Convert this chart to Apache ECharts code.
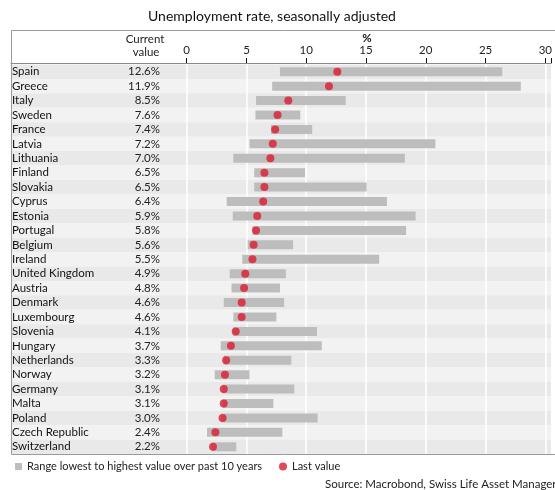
<!DOCTYPE html>
<html><head><meta charset="utf-8">
<script src="https://cdn.jsdelivr.net/npm/echarts@6/dist/echarts.min.js"></script>
<style>html,body{margin:0;padding:0;background:#fff}#c{width:555px;height:490px}</style>
</head><body><div id="c"></div>
<script>
const countries = ["Spain","Greece","Italy","Sweden","France","Latvia","Lithuania","Finland","Slovakia","Cyprus","Estonia","Portugal","Belgium","Ireland","United Kingdom","Austria","Denmark","Luxembourg","Slovenia","Hungary","Netherlands","Norway","Germany","Malta","Poland","Czech Republic","Switzerland"];
const currentValues = [12.6,11.9,8.5,7.6,7.4,7.2,7.0,6.5,6.5,6.4,5.9,5.8,5.6,5.5,4.9,4.8,4.6,4.6,4.1,3.7,3.3,3.2,3.1,3.1,3.0,2.4,2.2];
const rangeMin = [7.8,7.15,5.8,5.75,7.05,5.25,3.9,5.65,5.65,3.35,3.85,5.5,5.1,4.65,3.6,3.75,3.1,3.9,3.9,2.85,3.1,2.35,3.0,3.0,2.9,1.7,2.1];
const rangeMax = [26.4,27.95,13.3,9.5,10.5,20.8,18.25,9.9,15.05,16.75,19.15,18.35,8.9,16.1,8.3,7.8,8.15,7.5,10.9,11.3,8.75,5.25,9.0,7.25,10.95,8.0,4.15];
const xTicks = [0,5,10,15,20,25,30];

const FONT = 'Lato';
const rangeName = 'Range lowest to highest value over past 10 years';
const lastName = 'Last value';
const TOP = 64.5, H = 389.5, SPLIT = 186.7;

const chart = echarts.init(document.getElementById('c'), null, {renderer:'canvas'});
const stripe = {show:true, interval:0, areaStyle:{color:['#e9e9e9','#f2f2f2']}};
chart.setOption({
  animation:false,
  textStyle:{fontFamily:FONT},
  title:{text:'Unemployment rate, seasonally adjusted', left:148, top:9, padding:0,
    textStyle:{fontFamily:FONT, fontSize:14, fontWeight:'normal', color:'#111'}},
  grid:[
    {left:11, top:TOP, width:SPLIT-11, height:H},
    {left:SPLIT, top:TOP, right:0, height:H}
  ],
  xAxis:[
    {gridIndex:0, type:'value', min:0, max:1, position:'top', offset:1.5,
     axisLine:{show:true, lineStyle:{color:'#8a8a8a', width:1}}, axisTick:{show:false},
     axisLabel:{show:false}, splitLine:{show:false}},
    {gridIndex:1, type:'value', min:0, max:30.5, interval:5, position:'top', offset:1.5,
     axisLine:{show:true, lineStyle:{color:'#8a8a8a', width:1}},
     axisTick:{show:true, length:5, lineStyle:{color:'#111', width:1}},
     axisLabel:{margin:7, fontSize:11.5, color:'#222', fontFamily:FONT,
       formatter:v=> xTicks.indexOf(v)>=0 ? String(v) : ''},
     splitLine:{show:true, lineStyle:{color:'#ffffff', width:1.5}}}
  ],
  yAxis:[
    {gridIndex:0, type:'category', inverse:true, data:countries,
     axisLine:{show:false}, axisTick:{show:false}, splitArea:stripe,
     axisLabel:{inside:true, interval:0, margin:1, fontSize:11.5, color:'#111', fontFamily:FONT,
       formatter:(v,i)=>'{n|'+v+'}{v|'+currentValues[i].toFixed(1)+'%}',
       rich:{n:{width:118, align:'left', fontSize:11.5, fontFamily:FONT, color:'#111'},
             v:{width:30, align:'right', fontSize:11.5, fontFamily:FONT, color:'#222'}}}},
    {gridIndex:1, type:'category', inverse:true, data:countries,
     axisLine:{show:false}, axisTick:{show:false}, axisLabel:{show:false, interval:0}, splitArea:stripe}
  ],
  legend:[
    {data:[{name:rangeName, icon:'rect'}], left:15, top:461, padding:0, itemWidth:7, itemHeight:7, itemGap:0,
     textStyle:{fontFamily:FONT, fontSize:11, color:'#222'}, selectedMode:false},
    {data:[{name:lastName, icon:'circle'}], left:279, top:461, padding:0, itemWidth:8, itemHeight:8,
     textStyle:{fontFamily:FONT, fontSize:11, color:'#222'}, selectedMode:false}
  ],
  graphic:[
    {type:'rect', silent:true, z:100, shape:{x:11.5, y:30.5, width:560, height:424}, style:{fill:'none', stroke:'#9a9a9a', lineWidth:1}},
    {type:'text', silent:true, x:145, y:39, style:{text:'Current', fontFamily:FONT, fontSize:11.5, fill:'#222', align:'center', verticalAlign:'middle'}},
    {type:'text', silent:true, x:146, y:52, style:{text:'value', fontFamily:FONT, fontSize:11.5, fill:'#222', align:'center', verticalAlign:'middle'}},
    {type:'text', silent:true, x:367, y:38, style:{text:'%', fontFamily:FONT, fontSize:11.5, fontWeight:'bold', fill:'#111', align:'center', verticalAlign:'middle'}},
    {type:'text', silent:true, x:325, y:484, style:{text:'Source: Macrobond, Swiss Life Asset Managers', fontFamily:FONT, fontSize:11.5, fill:'#222', align:'left', verticalAlign:'middle'}}
  ],
  series:[
    {type:'bar', xAxisIndex:1, yAxisIndex:1, stack:'r', silent:true, barWidth:9,
     itemStyle:{color:'rgba(0,0,0,0)'}, data:rangeMin},
    {type:'bar', name:rangeName, xAxisIndex:1, yAxisIndex:1, stack:'r', barWidth:9,
     itemStyle:{color:'#bdbdbd'}, data:rangeMax.map((m,i)=>+(m-rangeMin[i]).toFixed(2))},
    {type:'scatter', name:lastName, xAxisIndex:1, yAxisIndex:1, symbolSize:8, z:5,
     itemStyle:{color:'#dc1a2e'}, data:countries.map((c,i)=>[currentValues[i], c])}
  ]
});
</script></body></html>
